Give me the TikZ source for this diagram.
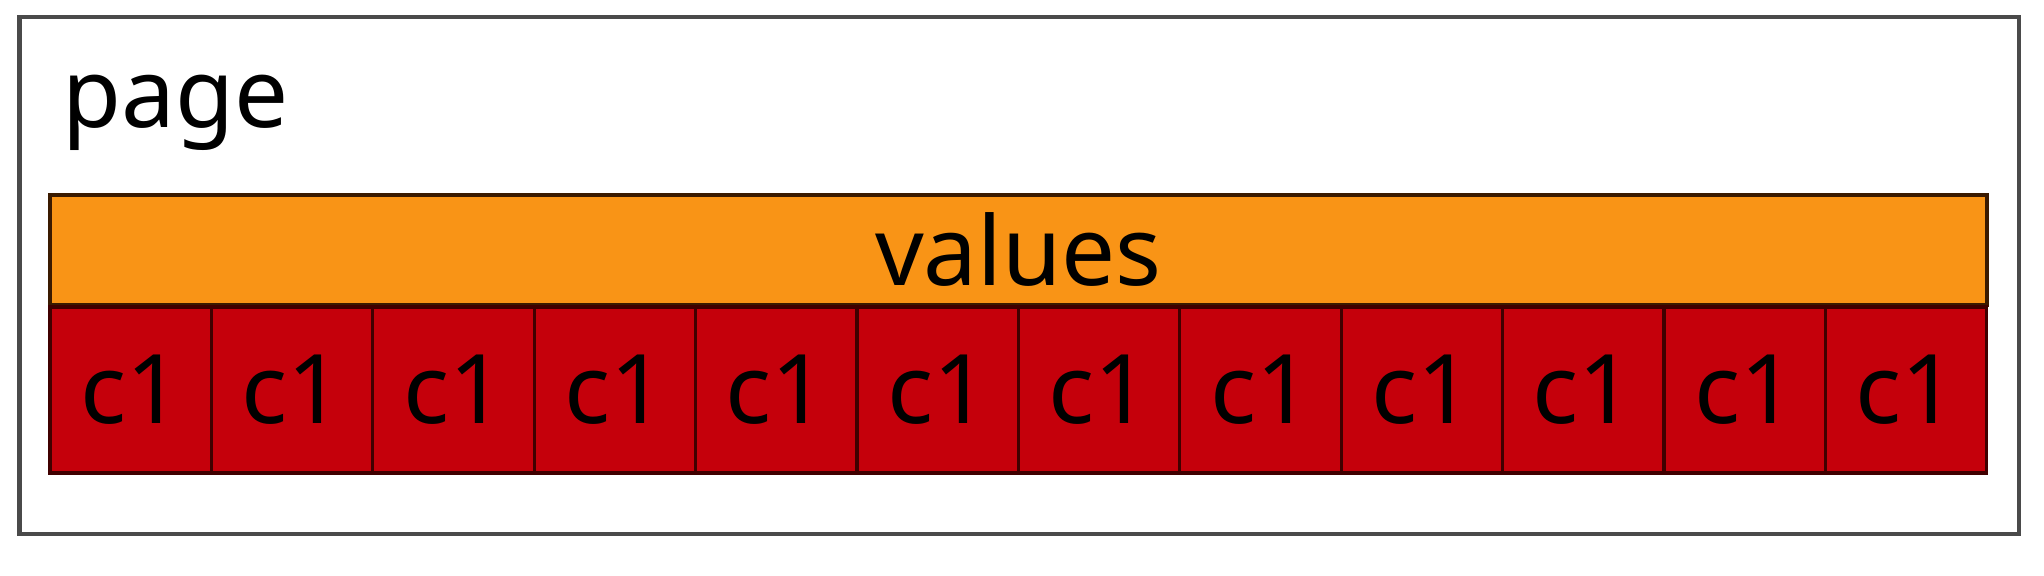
\documentclass[tikz,border=0pt]{standalone}
\usepackage{fontspec}
\setmainfont{Noto Sans}
\definecolor{barorange}{HTML}{F99416}
\definecolor{cellred}{HTML}{C5000B}
\definecolor{framegray}{HTML}{4A4A4A}
\definecolor{barline}{HTML}{3A1A00}
\definecolor{cellline}{HTML}{400000}
\begin{document}
\begin{tikzpicture}[x=0.5pt,y=-0.5pt,
  lbl/.style={font=\fontsize{48}{58}\selectfont, text=black},
  pageframe/.style={draw=framegray, line width=2.2pt, fill=white, rectangle, inner sep=0pt,
    minimum width=999.75pt, minimum height=258.5pt},
  valuebar/.style={draw=barline, line width=1.6pt, fill=barorange, rectangle, inner sep=0pt,
    minimum width=968.5pt, minimum height=55pt, lbl},
  cellbox/.style={draw=cellline, line width=1.6pt, fill=cellred, rectangle, inner sep=0pt,
    minimum width=80.7pt, minimum height=83pt, lbl}]
\useasboundingbox[fill=white] (0,0) rectangle (2044,576);
\node[pageframe] (frame) at (1019.25,275.5) {};
\node[lbl, anchor=base west, inner sep=0pt] (page) at (62,128) {page};
\node[valuebar] (values) at (1018.5,250) {values};
\node[cellbox] (c1) at (130.7,390) {c1};
\node[cellbox] (c2) at (292.1,390) {c1};
\node[cellbox] (c3) at (453.5,390) {c1};
\node[cellbox] (c4) at (614.9,390) {c1};
\node[cellbox] (c5) at (776.3,390) {c1};
\node[cellbox] (c6) at (937.7,390) {c1};
\node[cellbox] (c7) at (1099.1,390) {c1};
\node[cellbox] (c8) at (1260.5,390) {c1};
\node[cellbox] (c9) at (1421.9,390) {c1};
\node[cellbox] (c10) at (1583.3,390) {c1};
\node[cellbox] (c11) at (1744.7,390) {c1};
\node[cellbox] (c12) at (1906.1,390) {c1};
\end{tikzpicture}
\end{document}
